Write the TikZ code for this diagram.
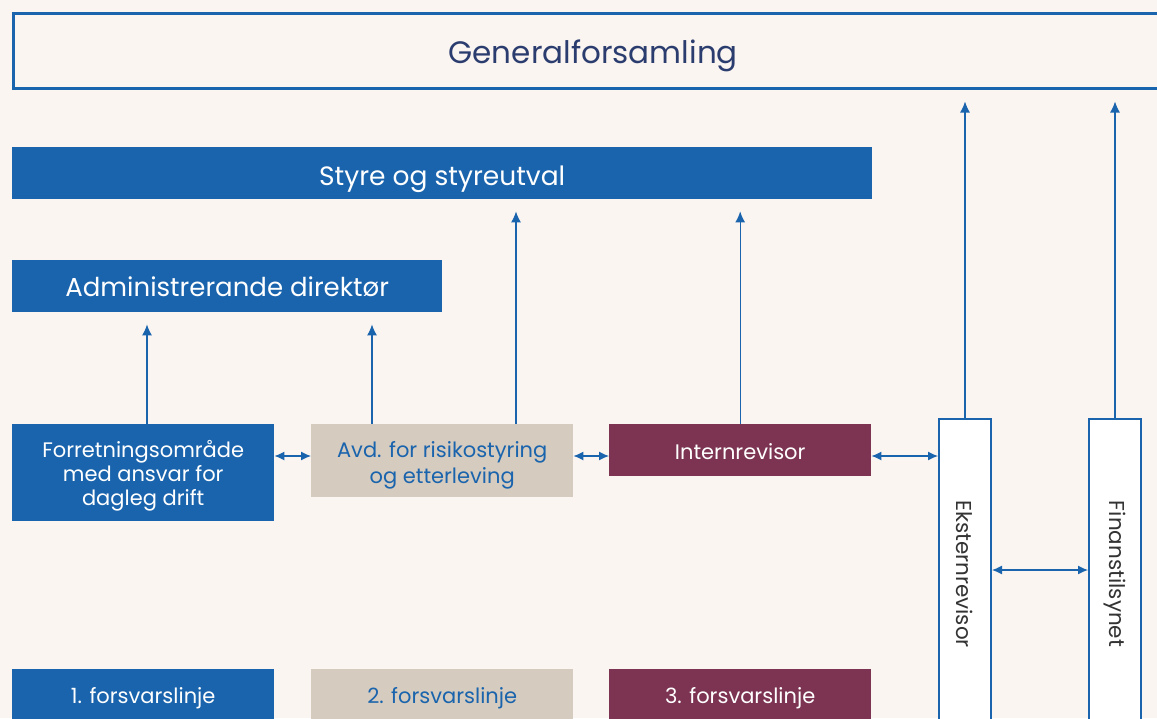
\documentclass[tikz,border=0pt]{standalone}
\usepackage{fontspec}
\setmainfont{Poppins}
\usetikzlibrary{arrows.meta}

\definecolor{bgcol}{HTML}{FAF5F1}
\definecolor{fblue}{HTML}{1A64AD}
\definecolor{fbeige}{HTML}{D5CBBE}
\definecolor{fred}{HTML}{7C3452}
\definecolor{fnavy}{HTML}{2B3C6E}
\definecolor{fgrey}{HTML}{333333}

\begin{document}
\begin{tikzpicture}[x=1pt,y=-1pt,
    box/.style={rectangle, inner sep=0pt, anchor=north west, align=center},
    bluebox/.style={box, fill=fblue, text=white},
    beigebox/.style={box, fill=fbeige, text=fblue},
    redbox/.style={box, fill=fred, text=white},
    vbox/.style={box, draw=fblue, line width=2pt, fill=white, text=fgrey,
        minimum width=52, minimum height=310, font=\fontsize{21.5}{24}\selectfont},
    up/.style={draw=fblue, line width=1.2pt, -{Latex[length=11pt,width=10pt]}, shorten >=12pt},
    both/.style={draw=fblue, line width=1.2pt, {Latex[length=10pt,width=9pt]}-{Latex[length=10pt,width=9pt]}}]
    \useasboundingbox (0,0) rectangle (1157,718);
    \fill[bgcol] (0,0) rectangle (1157,718);
    \clip (0,0) rectangle (1157,718);

    % top boxes
    \node[box, draw=fblue, line width=2.5pt, text=fnavy, minimum width=1160, minimum height=75,
        text height=25pt, text depth=0pt, font=\fontsize{31}{36}\selectfont] (gen) at (12,12) {Generalforsamling};
    \node[bluebox, minimum width=860, minimum height=52, text height=24pt, text depth=0pt,
        font=\fontsize{26.5}{30}\selectfont] (styre) at (12,147) {Styre og styreutval};
    \node[bluebox, minimum width=430, minimum height=52, text height=20pt, text depth=0pt,
        font=\fontsize{26}{30}\selectfont] (adm) at (12,260) {Administrerande direktør};

    % middle row
    \node[bluebox, minimum width=262, minimum height=97, text height=65pt, text depth=0pt,
        font=\fontsize{21}{24}\selectfont] (fo) at (12,424) {Forretningsområde\\med ansvar for\\dagleg drift};
    \node[beigebox, minimum width=262, minimum height=73, text height=45pt, text depth=0pt,
        font=\fontsize{21}{26}\selectfont] (avd) at (311,424) {Avd. for risikostyring\\og etterleving};
    \node[redbox, minimum width=262, minimum height=52, text height=18pt, text depth=0pt,
        font=\fontsize{21}{24}\selectfont] (intr) at (609,424) {Internrevisor};
    \node[vbox] (ekst) at (938,418) {\rotatebox{-90}{Eksternrevisor}};
    \node[vbox] (fin) at (1088,418) {\rotatebox{-90}{Finanstilsynet}};

    % bottom row
    \foreach \n/\x/\s/\t in {1/12/bluebox/1. forsvarslinje, 2/311/beigebox/2. forsvarslinje, 3/609/redbox/3. forsvarslinje}
        \node[\s, minimum width=262, minimum height=56, text height=12pt, text depth=0pt,
            font=\fontsize{21}{24}\selectfont] (line\n) at (\x,669) {\t};

    % arrows up
    \draw[up] (fo.north -| 147,0) -- (adm.south -| 147,0);
    \draw[up] (avd.north -| 372,0) -- (adm.south -| 372,0);
    \draw[up] (avd.north -| 516,0) -- (styre.south -| 516,0);
    \draw[up] (intr.north) -- (styre.south -| intr.north);
    \draw[up] (ekst.north) -- (gen.south -| ekst.north);
    \draw[up] (fin.north) -- (gen.south -| fin.north);

    % arrows across
    \draw[both] (fo.east |- 0,456) -- (avd.west |- 0,456);
    \draw[both] (avd.east |- 0,456) -- (intr.west |- 0,456);
    \draw[both] (intr.east |- 0,456) -- (ekst.west |- 0,456);
    \draw[both] (ekst.east |- 0,570) -- (fin.west |- 0,570);
\end{tikzpicture}
\end{document}
